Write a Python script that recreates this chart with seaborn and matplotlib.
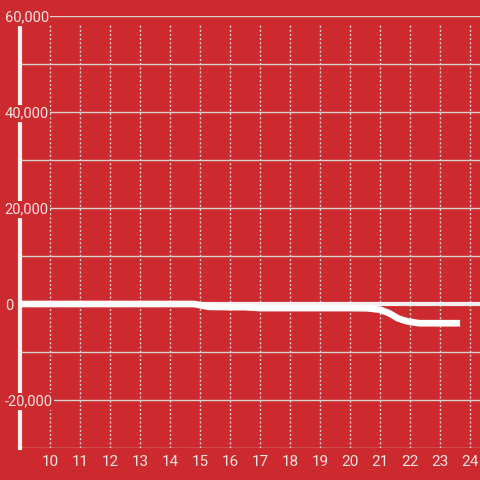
import numpy as np
import pandas as pd
import matplotlib
matplotlib.use('Agg')
import matplotlib.pyplot as plt
import seaborn as sns

# values
hours = [9, 10, 11, 12, 13, 14, 14.8, 15.3, 16, 16.5, 17, 18, 19, 20, 20.6, 21, 21.3, 21.6, 21.9, 22.3, 22.8, 23.67]
values = [0, 0, 0, 0, 0, 0, 0, -600, -650, -650, -850, -850, -850, -850, -900, -1200, -1900, -3000, -3600, -4000, -4000, -4000]
x_ticks = list(range(10, 25))
y_ticks = [-20000, 0, 20000, 40000, 60000]
y_minor = [-30000, -10000, 10000, 30000, 50000]

bg = '#cc2a2e'
grid_col = '#d9d0d0'
text_col = '#f5e4e4'

df = pd.DataFrame({'hour': hours, 'value': values})

sns.set_theme(style='white')
plt.rcParams['font.family'] = ['Roboto', 'DejaVu Sans']

fig = plt.figure(figsize=(4.8, 4.8), dpi=100)
fig.patch.set_facecolor(bg)
ax = fig.add_axes([20 / 480, 32 / 480, 460 / 480, 432 / 480])
ax.set_facecolor(bg)
ax.set_xlim(9, 24.333)
ax.set_ylim(-30000, 60000)
ax.set_axisbelow(True)  # axis (tick labels) at zorder 0.5

# gridlines, kept under the tick labels
for y in y_ticks + y_minor:
    ax.axhline(y, color=grid_col, lw=1, zorder=0.2)
ax.vlines(x_ticks, -30000, 58400, colors=grid_col, linestyles=(0, (1.5, 1.5)), lw=1, zorder=0.2)
ax.axhline(0, color='#f4f0f0', lw=3, zorder=1)

sns.lineplot(data=df, x='hour', y='value', color='white', lw=4.8, ax=ax, zorder=3,
             solid_capstyle='butt')
ax.set_xlabel('')
ax.set_ylabel('')

for s in ['top', 'right', 'bottom']:
    ax.spines[s].set_visible(False)
ax.spines['left'].set_color('#f4f0f0')
ax.spines['left'].set_linewidth(3)
ax.spines['left'].set_bounds(-30000, 58300)
ax.spines['left'].set_zorder(0.3)

ax.set_xticks(x_ticks)
ax.set_xticklabels([str(t) for t in x_ticks])
ax.set_yticks(y_ticks)
ax.set_yticklabels(['{:,}'.format(t) for t in y_ticks])
ax.tick_params(axis='both', length=0, colors=text_col)
ax.tick_params(axis='x', pad=5, labelsize=11)
ax.tick_params(axis='y', pad=11, labelsize=10.5)
for lab in ax.get_yticklabels():
    lab.set_horizontalalignment('left')
    lab.set_bbox(dict(fc=bg, ec='none', pad=1))

fig.savefig('out.png', dpi=100, facecolor=bg)
